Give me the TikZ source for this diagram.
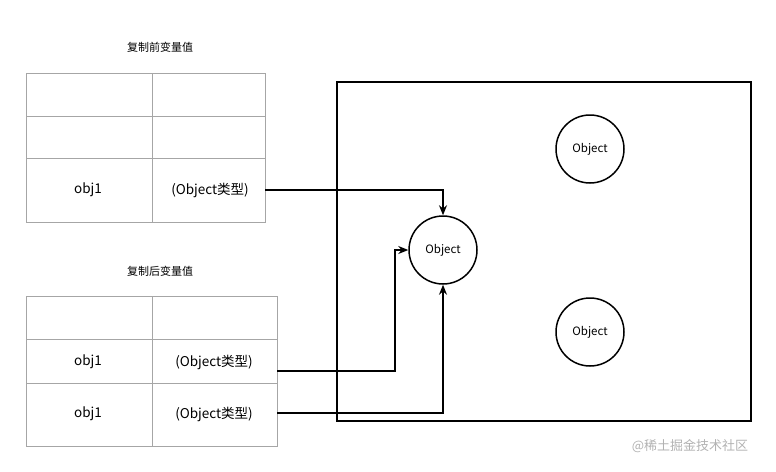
\documentclass[tikz,border=0pt]{standalone}
\usepackage{fontspec}
\setmainfont{Noto Sans CJK SC}
\usetikzlibrary{arrows.meta}
\tikzset{
  cell/.style={draw=gray!70, line width=1pt},
  obj/.style={draw, circle, line width=1.5pt, minimum size=68pt, inner sep=0pt, font=\fontsize{11.5}{12}\selectfont},
  txt/.style={font=\fontsize{13.5}{15}\selectfont},
  ttl/.style={font=\fontsize{11}{13}\selectfont},
  link/.style={draw, line width=1.3pt, -{Stealth[length=10pt,width=8pt]}}
}
\begin{document}
\begin{tikzpicture}[x=1pt, y=-1pt]
  \useasboundingbox (0,0) rectangle (776,471);
  % before copy
  \node[ttl] (t1) at (160,47) {复制前变量值};
  \draw[cell] (26,73) rectangle (265,222);
  \draw[cell] (26,116) -- (265,116) (26,158) -- (265,158) (152,73) -- (152,222);
  \node[txt] (a1) at (88,190) {obj1};
  \node[txt] (b1) at (210,190) {(Object类型)};
  \coordinate (p1) at (265,190);
  % after copy
  \node[ttl] (t2) at (160,271) {复制后变量值};
  \draw[cell] (26,296) rectangle (277,446);
  \draw[cell] (26,339) -- (277,339) (26,383) -- (277,383) (152,296) -- (152,446);
  \node[txt] (a2) at (88,362) {obj1};
  \node[txt] (b2) at (214,362) {(Object类型)};
  \node[txt] (a3) at (88,414) {obj1};
  \node[txt] (b3) at (214,414) {(Object类型)};
  \coordinate (p2) at (277,371);
  \coordinate (p3) at (277,413);
  % heap
  \draw[line width=1.4pt] (337,82) rectangle (751,421);
  \node[obj] (o1) at (443,250) {Object};
  \node[obj] (o2) at (590,149) {Object};
  \node[obj] (o3) at (590,332) {Object};
  \path[link] (p1) -| (o1.north);
  \path[link] (p2) -- (395,371) |- (o1.west);
  \path[link] (p3) -| (o1.south);
  \node[font=\fontsize{13}{15}\selectfont, text=gray!60] (wm) at (690,446) {@稀土掘金技术社区};
\end{tikzpicture}
\end{document}
